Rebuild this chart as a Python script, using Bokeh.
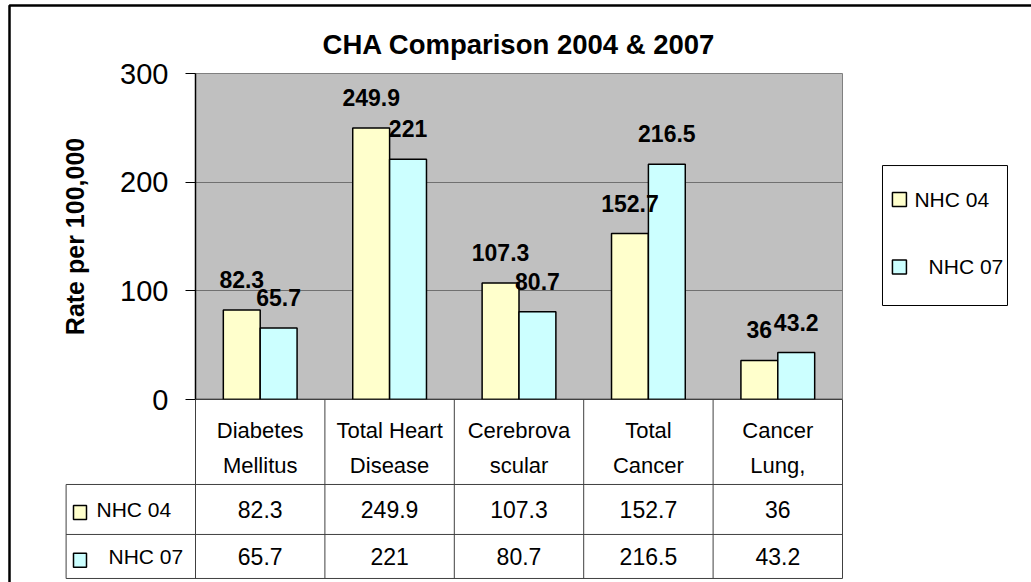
from bokeh.plotting import figure
from bokeh.models import Range1d, ColumnDataSource, LabelSet, Span, FixedTicker
from bokeh.core.properties import value
from bokeh.embed import file_html
from bokeh.resources import INLINE

# ---- data ----
categories = ["Diabetes Mellitus", "Total Heart Disease", "Cerebrovascular", "Total Cancer", "Cancer Lung,"]
header_line1 = ["Diabetes", "Total Heart", "Cerebrova", "Total", "Cancer"]
header_line2 = ["Mellitus", "Disease", "scular", "Cancer", "Lung,"]
series_names = ["NHC 04", "NHC 07"]
nhc04 = [82.3, 249.9, 107.3, 152.7, 36]
nhc07 = [65.7, 221, 80.7, 216.5, 43.2]
y_ticks = [0, 100, 200, 300]

FONT = "Liberation Sans"
YELLOW = "#FFFFCC"
CYAN = "#CCFFFF"
series_colors = [YELLOW, CYAN]

def fmt(v):
    return f"{v:g}"

n = len(categories)
xc = [i + 0.5 for i in range(n)]
bw = 0.285
x04 = [x - bw / 2 for x in xc]
x07 = [x + bw / 2 for x in xc]

p = figure(width=1031, height=582, output_backend="svg", toolbar_location=None,
           x_range=Range1d(0, n), y_range=Range1d(0, 300),
           min_border_left=195, min_border_right=189, min_border_top=73, min_border_bottom=183)

p.title.text = "CHA Comparison 2004 & 2007"
p.title.align = "center"
p.title.text_font = FONT
p.title.text_font_size = "27.5px"
p.title.text_font_style = "bold"
p.title.text_color = "black"
p.title.standoff = 27

p.background_fill_color = "#C0C0C0"
p.border_fill_color = "white"
p.outline_line_color = "#808080"
p.outline_line_width = 1

p.xaxis.visible = False
p.xgrid.visible = False
p.ygrid.grid_line_color = "#707070"
p.ygrid.grid_line_width = 1

ax = p.yaxis[0]
ax.ticker = FixedTicker(ticks=y_ticks)
ax.axis_line_color = "black"
ax.axis_line_width = 1.5
ax.major_tick_line_color = "black"
ax.major_tick_out = 10
ax.major_tick_in = 0
ax.minor_tick_line_color = None
ax.major_label_standoff = 17
ax.major_label_text_font = FONT
ax.major_label_text_font_size = "29px"
ax.major_label_text_color = "black"
ax.axis_label = "Rate per 100,000"
ax.axis_label_text_font = FONT
ax.axis_label_text_font_size = "25px"
ax.axis_label_text_font_style = "bold"
ax.axis_label_text_color = "black"
ax.axis_label_standoff = 28

src = ColumnDataSource(dict(x04=x04, x07=x07, xc=xc, v04=nhc04, v07=nhc07,
                            t04=[fmt(v) for v in nhc04], t07=[fmt(v) for v in nhc07],
                            h1=header_line1, h2=header_line2))

r04 = p.vbar(x="x04", top="v04", bottom=0, width=bw, source=src,
             fill_color=YELLOW, line_color="black", line_width=1.5)
r07 = p.vbar(x="x07", top="v07", bottom=0, width=bw, source=src,
             fill_color=CYAN, line_color="black", line_width=1.5)

p.add_layout(Span(location=0, dimension="width", line_color="black", line_width=1.5))

lbl_kw = dict(text_font=value(FONT), text_font_size="23px", text_font_style="bold",
              text_color="black", text_align="center", text_baseline="alphabetic",
              y_offset=22, source=src)
p.add_layout(LabelSet(x="x04", y="v04", text="t04", **lbl_kw))
p.add_layout(LabelSet(x="x07", y="v07", text="t07", **lbl_kw))

OV = "overlay"

# ---- data table below the plot (value units extend below 0) ----
HDR_BOTTOM = -78.2
ROW1_BOTTOM = -124.2
ROW2_BOTTOM = -164.7
LEG_LEFT = -1.0
TCOL = "#404040"

hx0 = [LEG_LEFT] * 3
hx1 = [n] * 3
hy = [HDR_BOTTOM, ROW1_BOTTOM, ROW2_BOTTOM]
p.segment(x0=hx0, y0=hy, x1=hx1, y1=hy, line_color=TCOL, line_width=1, level=OV)
vx = [LEG_LEFT] + list(range(n + 1))
vy0 = [HDR_BOTTOM] + [0] * (n + 1)
vy1 = [ROW2_BOTTOM] * (n + 2)
p.segment(x0=vx, y0=vy0, x1=vx, y1=vy1, line_color=TCOL, line_width=1, level=OV)

txt_kw = dict(text_font=value(FONT), text_color="black", level=OV, source=src)
p.text(x="xc", y=-28.5, text="h1", text_font_size="22px", text_align="center",
       text_baseline="alphabetic", **txt_kw)
p.text(x="xc", y=-60.7, text="h2", text_font_size="22px", text_align="center",
       text_baseline="alphabetic", **txt_kw)
row_y = [(HDR_BOTTOM + ROW1_BOTTOM) / 2, (ROW1_BOTTOM + ROW2_BOTTOM) / 2]
p.text(x="xc", y=row_y[0], text="t04", text_font_size="23px", text_align="center",
       text_baseline="middle", **txt_kw)
p.text(x="xc", y=row_y[1], text="t07", text_font_size="23px", text_align="center",
       text_baseline="middle", **txt_kw)

# legend keys in the table
key_y = [-104.0, -148.0]
p.rect(x=[-0.8926, -0.8926], y=key_y, width=13, height=14,
       width_units="screen", height_units="screen",
       fill_color=series_colors, line_color="black", line_width=1.5, level=OV)
p.text(x=[-0.765, -0.672], y=row_y, text=series_names, text_font=value(FONT),
       text_font_size="21px", text_color="black", text_align="left",
       text_baseline="middle", level=OV)

# legend box to the right of the plot
p.quad(left=[5.309], right=[6.275], top=[215.3], bottom=[86.5],
       fill_color="white", line_color="black", line_width=1, level=OV)
leg_y = [184.0, 122.0]
p.rect(x=[5.440, 5.440], y=leg_y, width=14, height=14,
       width_units="screen", height_units="screen",
       fill_color=series_colors, line_color="black", line_width=1.5, level=OV)
p.text(x=[5.556, 5.665], y=leg_y, text=series_names, text_font=value(FONT),
       text_font_size="21px", text_color="black", text_align="left",
       text_baseline="middle", level=OV)

# outer chart border
p.quad(left=[-1.4374], right=[20], top=[362.6], bottom=[-400],
       fill_color=None, line_color="black", line_width=2.5, level=OV)

open("out.html", "w").write(file_html(p, INLINE))
